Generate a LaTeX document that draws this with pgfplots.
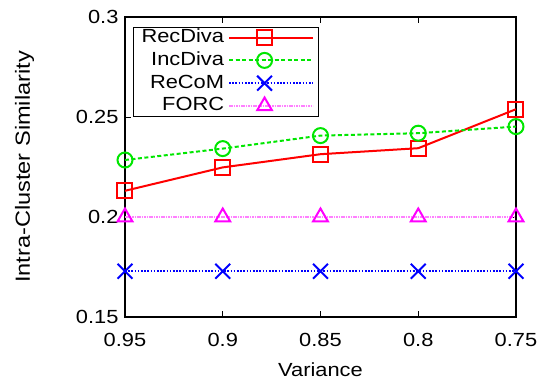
\documentclass[border=0pt]{standalone}
\usepackage{fontspec}
\setmainfont{Liberation Sans}[FakeStretch=1.15]
\usepackage{pgfplots}
\pgfplotsset{compat=1.18}

\definecolor{cRec}{RGB}{255,0,0}
\definecolor{cInc}{RGB}{0,230,0}
\definecolor{cReC}{RGB}{0,0,255}
\definecolor{cForc}{RGB}{255,0,255}

\begin{document}
\begin{tikzpicture}
\begin{axis}[
  name=ax,
  scale only axis, width=391bp, height=300bp,
  x dir=reverse,
  xmin=0.75, xmax=0.95, ymin=0.15, ymax=0.3,
  xtick={0.75,0.8,0.85,0.9,0.95},
  ytick={0.15,0.2,0.25,0.3},
  tick align=inside, major tick length=6bp,
  axis line style={line width=1.2bp},
  tick style={line width=0.9bp, black},
  /pgf/number format/assume math mode=true,
  ticklabel style={font=\fontsize{19bp}{22bp}\selectfont},
  xticklabel style={yshift=-13bp},
  yticklabel style={xshift=-3bp},
  xlabel={Variance},
  ylabel={Intra-Cluster Similarity},
  xlabel style={font=\fontsize{19bp}{22bp}\selectfont, yshift=-9bp},
  ylabel style={font=\fontsize{20.5bp}{24bp}\selectfont, yshift=35bp},
  legend plot pos=right,
  legend cell align=right,
  legend image code/.code={%
    \path (0bp,0bp) -- (84bp,0bp);
    \draw[mark repeat=2,mark phase=2,#1]
      plot coordinates {(0bp,0bp) (35.5bp,0bp) (71bp,0bp)};},
  legend style={
    at={(axis description cs:0.0205,0.968)}, anchor=north west,
    draw=black, line width=1bp,
    font=\fontsize{19bp}{22bp}\selectfont,
    inner xsep=4bp, inner ysep=0.5bp,
    row sep=2.8bp,
    nodes={inner ysep=1bp, inner xsep=4bp, text height=14bp, text depth=4bp},
  },
]
\addplot[cRec, line width=2bp, mark=square, mark size=7.5bp, mark options={solid}]
  coordinates {(0.95,0.2131) (0.9,0.2248) (0.85,0.2314) (0.8,0.2344) (0.75,0.2539)};
\addlegendentry{RecDiva}
\addplot[cInc, line width=2bp, dash pattern=on 4bp off 2.5bp, mark=o, mark size=7.5bp, mark options={solid}]
  coordinates {(0.95,0.2285) (0.9,0.2342) (0.85,0.2407) (0.8,0.2419) (0.75,0.2452)};
\addlegendentry{IncDiva}
\addplot[cReC, line width=2bp, dash pattern=on 1.6bp off 1.6bp, mark=x, mark size=10.5bp, mark options={solid}]
  coordinates {(0.95,0.1729) (0.9,0.1729) (0.85,0.1729) (0.8,0.1729) (0.75,0.1729)};
\addlegendentry{ReCoM}
\addplot[cForc!50, line width=2bp, dash pattern=on 1.6bp off 0.8bp, mark=triangle, mark size=8.5bp, mark options={solid, draw=cForc}]
  coordinates {(0.95,0.2) (0.9,0.2) (0.85,0.2) (0.8,0.2) (0.75,0.2)};
\addlegendentry{FORC}
\end{axis}
\pgfresetboundingbox
\path[use as bounding box]
  ([shift={(-125bp,-71bp)}]ax.south west) rectangle ([shift={(29bp,17bp)}]ax.north east);
\end{tikzpicture}
\end{document}
